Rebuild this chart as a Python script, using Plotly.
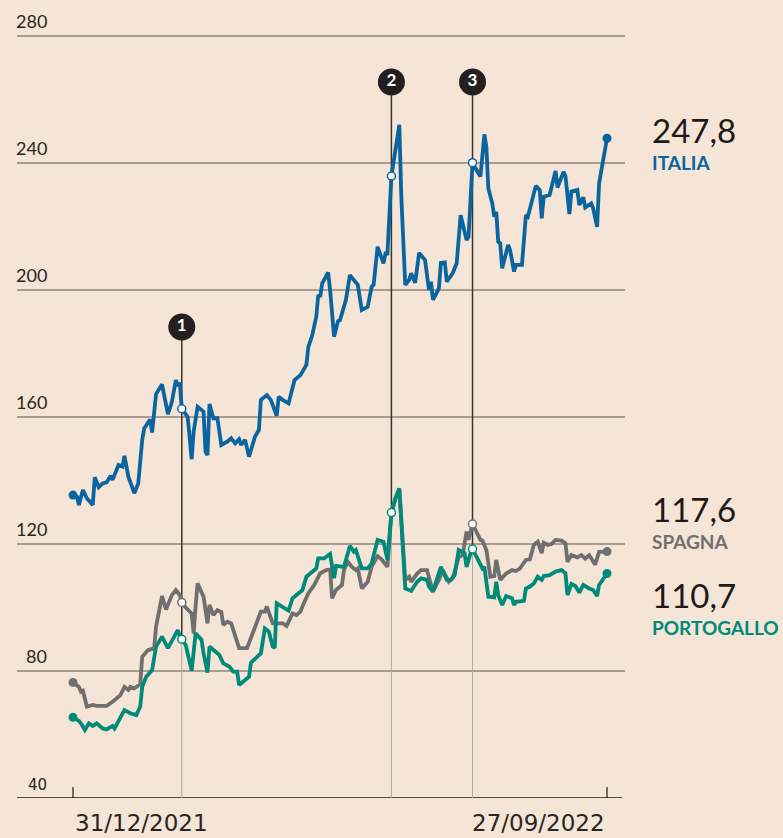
import plotly.graph_objects as go
import pandas as pd

# ---------------- DATA ----------------
it_dates = ["2021-12-31","2022-01-02","2022-01-03","2022-01-05","2022-01-07","2022-01-10","2022-01-11","2022-01-13","2022-01-15","2022-01-17",
            "2022-01-19","2022-01-20","2022-01-23","2022-01-25","2022-01-26","2022-01-28","2022-01-31","2022-02-02","2022-02-04","2022-02-05",
            "2022-02-08","2022-02-09","2022-02-11","2022-02-14","2022-02-17","2022-02-19","2022-02-21","2022-02-22","2022-02-23","2022-02-24",
            "2022-02-27","2022-03-01","2022-03-02","2022-03-04","2022-03-07","2022-03-08","2022-03-09","2022-03-10","2022-03-12","2022-03-14",
            "2022-03-16","2022-03-19","2022-03-21","2022-03-23","2022-03-25","2022-03-26","2022-03-28","2022-03-30","2022-04-02","2022-04-04",
            "2022-04-05","2022-04-08","2022-04-10","2022-04-13","2022-04-14","2022-04-16","2022-04-19","2022-04-22","2022-04-25","2022-04-28",
            "2022-04-29","2022-05-01","2022-05-03","2022-05-04","2022-05-05","2022-05-06","2022-05-09","2022-05-10","2022-05-12","2022-05-14",
            "2022-05-15","2022-05-18","2022-05-20","2022-05-23","2022-05-24","2022-05-26","2022-05-29","2022-05-31","2022-06-01","2022-06-03",
            "2022-06-06","2022-06-07","2022-06-08","2022-06-10","2022-06-12","2022-06-14","2022-06-15","2022-06-17","2022-06-19","2022-06-20",
            "2022-06-22","2022-06-24","2022-06-27","2022-06-29","2022-06-30","2022-07-01","2022-07-04","2022-07-05","2022-07-07","2022-07-08",
            "2022-07-11","2022-07-13","2022-07-15","2022-07-18","2022-07-19","2022-07-21","2022-07-23","2022-07-25","2022-07-27","2022-07-28",
            "2022-07-29","2022-07-31","2022-08-01","2022-08-02","2022-08-03","2022-08-04","2022-08-05","2022-08-08","2022-08-09","2022-08-11",
            "2022-08-12","2022-08-15","2022-08-17","2022-08-18","2022-08-22","2022-08-24","2022-08-25","2022-08-26","2022-08-29","2022-09-01",
            "2022-09-02","2022-09-05","2022-09-06","2022-09-08","2022-09-09","2022-09-12","2022-09-13","2022-09-15","2022-09-16","2022-09-19",
            "2022-09-20","2022-09-22","2022-09-23","2022-09-27"]
it_vals = [135.4,134.9,132.3,137.0,134.4,132.3,141.0,137.9,139.1,139.4,
           141.5,140.2,144.9,144.4,147.8,141.2,136.0,139.1,152.8,156.4,
           159.2,155.1,167.2,170.3,160.9,164.8,171.6,169.8,170.8,162.6,
           160.0,146.7,155.4,163.2,161.7,149.1,148.0,164.1,159.6,159.6,
           151.2,152.2,153.3,151.7,153.0,151.2,152.8,147.5,153.8,155.9,
           165.4,166.9,165.4,160.4,166.4,165.4,164.3,171.6,173.2,176.4,
           182.1,185.8,191.6,198.4,197.9,202.1,205.5,200.0,185.3,190.2,
           190.5,196.9,204.7,202.1,201.6,193.7,194.7,201.0,201.6,213.6,
           208.4,211.5,211.5,235.9,244.1,252.0,229.4,201.6,203.2,205.3,
           202.3,211.7,209.4,200.0,202.6,196.9,200.5,208.5,208.7,202.6,
           205.3,208.4,223.6,215.7,216.8,240.1,237.8,235.7,249.0,245.1,
           232.0,227.3,223.1,224.6,215.2,214.7,206.8,214.2,212.6,205.8,
           207.9,207.9,223.6,223.1,232.8,231.5,222.6,229.4,229.9,237.5,
           232.3,237.2,235.9,223.9,231.0,231.5,226.8,229.2,226.0,227.3,
           225.7,219.9,233.6,247.8]

es_dates = ["2021-12-31","2022-01-03","2022-01-04","2022-01-05","2022-01-07","2022-01-10","2022-01-12","2022-01-17","2022-01-20","2022-01-24",
            "2022-01-26","2022-01-28","2022-01-29","2022-01-31","2022-02-03","2022-02-04","2022-02-07","2022-02-10","2022-02-11","2022-02-14",
            "2022-02-16","2022-02-18","2022-02-19","2022-02-21","2022-02-23","2022-02-24","2022-02-26","2022-03-01","2022-03-02","2022-03-03",
            "2022-03-04","2022-03-07","2022-03-09","2022-03-10","2022-03-12","2022-03-14","2022-03-16","2022-03-17","2022-03-19","2022-03-21",
            "2022-03-24","2022-03-25","2022-03-29","2022-04-01","2022-04-05","2022-04-07","2022-04-08","2022-04-11","2022-04-14","2022-04-16",
            "2022-04-18","2022-04-21","2022-04-23","2022-04-25","2022-04-26","2022-04-29","2022-05-02","2022-05-05","2022-05-08","2022-05-10",
            "2022-05-11","2022-05-13","2022-05-16","2022-05-17","2022-05-19","2022-05-21","2022-05-23","2022-05-24","2022-05-26","2022-05-28",
            "2022-05-29","2022-05-31","2022-06-03","2022-06-05","2022-06-07","2022-06-08","2022-06-10","2022-06-12","2022-06-14","2022-06-17",
            "2022-06-19","2022-06-20","2022-06-23","2022-06-25","2022-06-28","2022-06-30","2022-07-01","2022-07-04","2022-07-06","2022-07-09",
            "2022-07-11","2022-07-14","2022-07-16","2022-07-18","2022-07-19","2022-07-21","2022-07-23","2022-07-25","2022-07-26","2022-07-28",
            "2022-07-30","2022-08-01","2022-08-02","2022-08-04","2022-08-07","2022-08-10","2022-08-12","2022-08-14","2022-08-17","2022-08-19",
            "2022-08-21","2022-08-23","2022-08-25","2022-08-26","2022-08-28","2022-08-30","2022-09-01","2022-09-04","2022-09-06","2022-09-07",
            "2022-09-09","2022-09-12","2022-09-14","2022-09-16","2022-09-18","2022-09-21","2022-09-23","2022-09-27"]
es_vals = [76.4,75.0,73.5,73.8,68.8,69.3,69.0,69.0,70.3,72.4,
           75.0,74.0,75.0,74.5,75.9,84.5,86.6,87.1,94.0,103.6,
           99.4,102.9,103.9,105.5,103.9,101.6,100.0,98.1,91.8,100.5,
           107.6,103.4,95.0,100.8,97.6,99.2,98.6,94.5,95.5,95.0,
           89.8,87.2,87.2,91.8,98.7,98.7,100.3,95.0,95.0,95.0,
           94.2,98.1,97.6,98.7,100.3,104.5,107.1,110.8,111.8,112.0,
           102.9,105.5,107.1,111.8,114.4,112.8,111.8,112.3,106.0,107.6,
           108.1,112.8,116.2,115.2,113.4,112.8,129.7,134.2,137.3,108.7,
           109.7,108.1,110.7,111.8,111.8,107.6,105.0,108.7,111.8,108.1,
           109.2,115.8,116.5,123.9,121.3,126.3,123.9,121.3,121.1,118.1,
           109.7,109.9,115.0,108.7,110.7,111.8,111.5,112.3,115.0,115.2,
           119.7,120.7,117.1,120.4,119.7,120.0,121.3,121.1,120.2,114.4,
           116.5,115.8,116.5,115.4,116.5,113.5,117.5,117.6]

pt_dates = ["2021-12-31","2022-01-03","2022-01-04","2022-01-06","2022-01-08","2022-01-10","2022-01-12","2022-01-15","2022-01-17","2022-01-20",
            "2022-01-21","2022-01-24","2022-01-26","2022-01-29","2022-02-01","2022-02-03","2022-02-04","2022-02-06","2022-02-09","2022-02-11",
            "2022-02-14","2022-02-17","2022-02-21","2022-02-22","2022-02-23","2022-02-24","2022-02-26","2022-03-01","2022-03-03","2022-03-06",
            "2022-03-07","2022-03-09","2022-03-10","2022-03-14","2022-03-15","2022-03-17","2022-03-20","2022-03-22","2022-03-24","2022-03-25",
            "2022-03-28","2022-03-30","2022-03-31","2022-04-03","2022-04-05","2022-04-07","2022-04-09","2022-04-11","2022-04-12","2022-04-13",
            "2022-04-16","2022-04-19","2022-04-21","2022-04-24","2022-04-26","2022-04-28","2022-05-01","2022-05-03","2022-05-04","2022-05-07",
            "2022-05-10","2022-05-12","2022-05-13","2022-05-17","2022-05-20","2022-05-22","2022-05-23","2022-05-26","2022-05-29","2022-05-31",
            "2022-06-03","2022-06-06","2022-06-08","2022-06-10","2022-06-12","2022-06-14","2022-06-17","2022-06-20","2022-06-23","2022-06-25",
            "2022-06-28","2022-06-29","2022-07-01","2022-07-03","2022-07-05","2022-07-08","2022-07-10","2022-07-12","2022-07-14","2022-07-17",
            "2022-07-18","2022-07-20","2022-07-21","2022-07-23","2022-07-26","2022-07-27","2022-07-29","2022-08-01","2022-08-02","2022-08-03",
            "2022-08-05","2022-08-07","2022-08-10","2022-08-11","2022-08-12","2022-08-16","2022-08-17","2022-08-19","2022-08-21","2022-08-23",
            "2022-08-25","2022-08-26","2022-08-29","2022-09-01","2022-09-04","2022-09-06","2022-09-07","2022-09-09","2022-09-11","2022-09-13",
            "2022-09-15","2022-09-18","2022-09-20","2022-09-22","2022-09-23","2022-09-27"]
pt_vals = [65.4,64.3,63.5,61.4,63.5,62.7,63.5,61.9,61.6,62.7,
           61.9,65.6,67.7,66.7,66.1,68.8,75.0,78.2,80.3,87.7,
           90.8,87.2,91.9,92.9,91.0,90.0,88.2,80.1,91.9,89.8,
           85.6,79.5,87.7,85.6,85.0,82.4,81.4,79.8,79.8,75.6,
           77.2,78.2,82.6,84.5,85.6,93.4,92.4,87.7,87.3,101.3,
           100.3,99.0,102.9,104.5,105.5,109.7,111.3,112.3,115.5,115.5,
           116.9,109.2,113.1,112.8,119.4,117.6,118.1,112.3,112.3,113.9,
           121.3,120.7,115.0,129.9,134.4,137.5,106.0,105.2,108.1,109.2,
           108.7,106.6,105.0,108.7,112.8,108.7,108.7,110.2,118.1,117.1,
           112.8,117.1,118.4,116.0,112.3,112.8,103.4,103.2,108.1,103.9,
           100.8,103.6,102.9,100.8,101.8,102.1,106.0,106.6,107.6,109.7,
           108.7,109.9,110.2,111.3,111.8,110.8,103.9,107.4,106.8,104.7,
           107.1,106.0,105.5,103.6,107.1,110.7]

series_names = ["ITALIA", "SPAGNA", "PORTOGALLO"]
event_dates = ["2022-02-24", "2022-06-10", "2022-07-21"]
event_labels = ["1", "2", "3"]
event_series = [["ITALIA", "SPAGNA", "PORTOGALLO"], ["ITALIA", "PORTOGALLO"], ["ITALIA", "SPAGNA", "PORTOGALLO"]]
y_ticks = [280, 240, 200, 160, 120, 80, 40]
x_ticks = ["2021-12-31", "2022-09-27"]
x_tick_labels = ["31/12/2021", "27/09/2022"]

# ---------------- LAYOUT GEOMETRY ----------------
W, H = 783, 838
L, R, T, B = 17, 625, 20, 798
ppy = 127 / 40.0                       # pixels per unit
y_top = 40 + (B - T) / ppy
ppd = (607 - 73) / 270.0               # pixels per day
d0 = pd.Timestamp("2021-12-31")
x_lo = d0 - pd.Timedelta(days=(73 - L) / ppd)
x_hi = d0 + pd.Timedelta(days=(R - 73) / ppd)

def px(xp):
    return (xp - L) / (R - L)

def py(yp):
    return (B - yp) / (B - T)

BG = "#f5e5d6"
C_IT = "#0a64a0"
C_ES = "#6f6f6f"
C_PT = "#008a7a"
series = {
    "ITALIA": (it_dates, it_vals, C_IT),
    "SPAGNA": (es_dates, es_vals, C_ES),
    "PORTOGALLO": (pt_dates, pt_vals, C_PT),
}

fig = go.Figure()

# data lines
for name in series_names:
    d, v, c = series[name]
    fig.add_trace(go.Scatter(x=d, y=v, mode="lines", line=dict(color=c, width=3.8),
                             hoverinfo="skip", showlegend=False))
    fig.add_trace(go.Scatter(x=[d[0], d[-1]], y=[v[0], v[-1]], mode="markers",
                             marker=dict(color=c, size=9), hoverinfo="skip", showlegend=False))

shapes = []
# gridlines
for t in y_ticks[:-1]:
    shapes.append(dict(type="line", xref="paper", yref="y", x0=0, x1=1, y0=t, y1=t,
                       line=dict(color="#5d5550", width=1.2), layer="below"))
# bottom axis
shapes.append(dict(type="line", xref="paper", yref="y", x0=0, x1=px(622), y0=40, y1=40,
                   line=dict(color="#1e1a18", width=1.5), layer="below"))
for xt in x_ticks:
    shapes.append(dict(type="line", xref="x", yref="y", x0=xt, x1=xt, y0=40, y1=40 + 11 / ppy,
                       line=dict(color="#1e1a18", width=1.2), layer="below"))

# event lines, circles, markers
marker_y = [40 + (B - 327) / ppy, 40 + (B - 82) / ppy, 40 + (B - 82) / ppy]
annotations = []
for ed, lab, sers, my in zip(event_dates, event_labels, event_series, marker_y):
    pts = []
    for name in sers:
        d, v, c = series[name]
        pts.append((v[d.index(ed)], c))
    low = min(p[0] for p in pts)
    shapes.append(dict(type="line", xref="x", yref="y", x0=ed, x1=ed, y0=40, y1=low,
                       line=dict(color="#b2aaa3", width=1), layer="below"))
    shapes.append(dict(type="line", xref="x", yref="y", x0=ed, x1=ed, y0=low, y1=my,
                       line=dict(color="#3a3431", width=1.5), layer="below"))
    for val, col in pts:
        fig.add_trace(go.Scatter(x=[ed], y=[val], mode="markers",
                                 marker=dict(color="white", size=8, line=dict(color=col, width=1.5)),
                                 hoverinfo="skip", showlegend=False))
    fig.add_trace(go.Scatter(x=[ed], y=[my], mode="markers+text", text=["<b>" + lab + "</b>"],
                             textposition="middle center",
                             textfont=dict(color="white", size=17, family="Lato"),
                             marker=dict(color="#231f1e", size=27),
                             hoverinfo="skip", showlegend=False))

# y labels
for t in y_ticks:
    if t == 40:
        annotations.append(dict(xref="paper", yref="y", x=px(49), y=t, xanchor="right", yanchor="bottom",
                                yshift=2, text=str(t), showarrow=False,
                                font=dict(family="DejaVu Sans", size=15, color="#2a2624")))
    else:
        annotations.append(dict(xref="paper", yref="y", x=px(49), y=t, xanchor="right", yanchor="bottom",
                                yshift=2, text=str(t), showarrow=False,
                                font=dict(family="Lato", size=18, color="#2a2624")))

# x labels
for xt, lab, anc in zip(x_ticks, x_tick_labels, ["left", "right"]):
    annotations.append(dict(xref="x", yref="paper", x=xt, y=py(838), xanchor=anc, yanchor="bottom",
                            text=lab, showarrow=False,
                            font=dict(family="DejaVu Sans", size=23, color="#2a2624")))

# right-side labels
right_pos = {"ITALIA": (130, 162), "SPAGNA": (509, 541), "PORTOGALLO": (595, 627)}
for name in series_names:
    d, v, c = series[name]
    yv, yn = right_pos[name]
    annotations.append(dict(xref="paper", yref="paper", x=px(650), y=py(yv), xanchor="left", yanchor="middle",
                            text=f"{v[-1]:.1f}".replace(".", ","), showarrow=False,
                            font=dict(family="Lato", size=33, color="#1f1a17")))
    annotations.append(dict(xref="paper", yref="paper", x=px(650), y=py(yn), xanchor="left", yanchor="middle",
                            text="<b>" + name + "</b>", showarrow=False,
                            font=dict(family="Lato", size=19, color=c)))

fig.update_layout(
    width=W, height=H,
    margin=dict(l=L, r=W - R, t=T, b=H - B),
    paper_bgcolor=BG, plot_bgcolor=BG,
    xaxis=dict(type="date", range=[x_lo, x_hi], showgrid=False, zeroline=False,
               showticklabels=False, ticks="", showline=False, fixedrange=True),
    yaxis=dict(range=[40, y_top], showgrid=False, zeroline=False, showticklabels=False,
               ticks="", showline=False, fixedrange=True),
    shapes=shapes, annotations=annotations, showlegend=False,
)

fig.write_html("out.html")
